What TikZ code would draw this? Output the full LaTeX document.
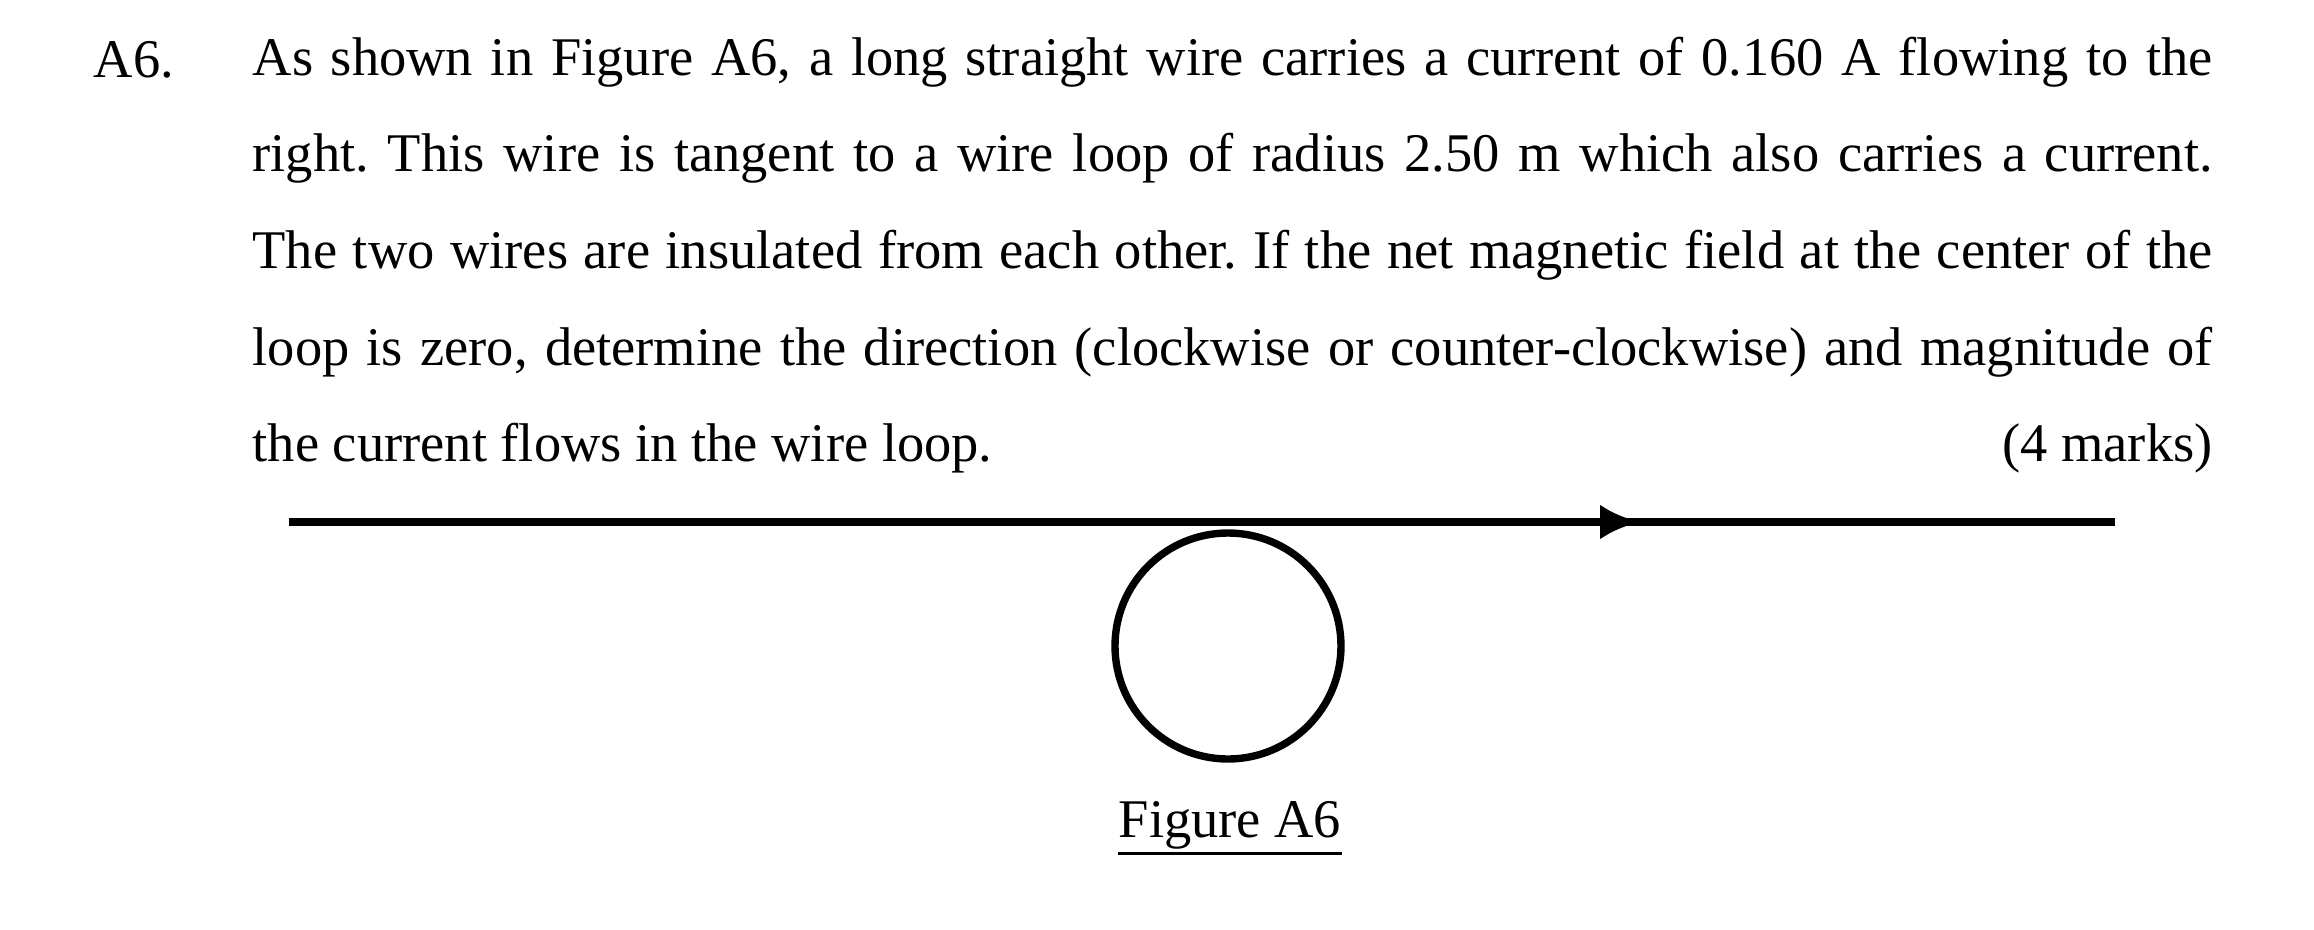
\documentclass[tikz,border=0pt]{standalone}
\usepackage{fontspec}
\setmainfont{Liberation Serif}
\usetikzlibrary{arrows.meta}
\newcommand{\arw}{-{Latex[length=4mm,width=3.5mm]}}
\begin{document}
\frenchspacing
\begin{tikzpicture}[wire/.style={line width=2.5pt}]
\useasboundingbox (0,0) rectangle (23.14,-9.29);
\fontsize{15.5}{27.5}\selectfont
% question text
\node[anchor=base west,inner sep=0] (num) at (0.93,-0.77) {A6.};
\node[anchor=north west,inner sep=0,text width=19.6cm,align=justify] (txt) at (2.52,-0.36)
{\hyphenpenalty=10000 As shown in Figure A6, a long straight wire carries a current of 0.160 A flowing to the
right. This wire is tangent to a wire loop of radius 2.50 m which also carries a current.
The two wires are insulated from each other. If the net magnetic field at the center of the
loop is zero, determine the direction (clockwise or counter-clockwise) and magnitude of
the current flows in the wire loop.\hfill(4 marks)};
% wire and loop
\coordinate (wl) at (2.89,-5.22);
\coordinate (wr) at (21.15,-5.22);
\coordinate (tip) at (16.40,-5.22);
\draw[wire] (wl) -- (wr);
\draw[wire,\arw] (wl) -- (tip);
\node[draw,circle,line width=2.1pt,minimum size=2.26cm,inner sep=0] (loop) at (12.28,-6.46) {};
% caption
\node[inner sep=0] (cap) at (12.30,-8.25) {Figure A6};
\draw[line width=0.8pt] ([yshift=-1pt]cap.south west) -- ([yshift=-1pt]cap.south east);
\end{tikzpicture}
\end{document}
